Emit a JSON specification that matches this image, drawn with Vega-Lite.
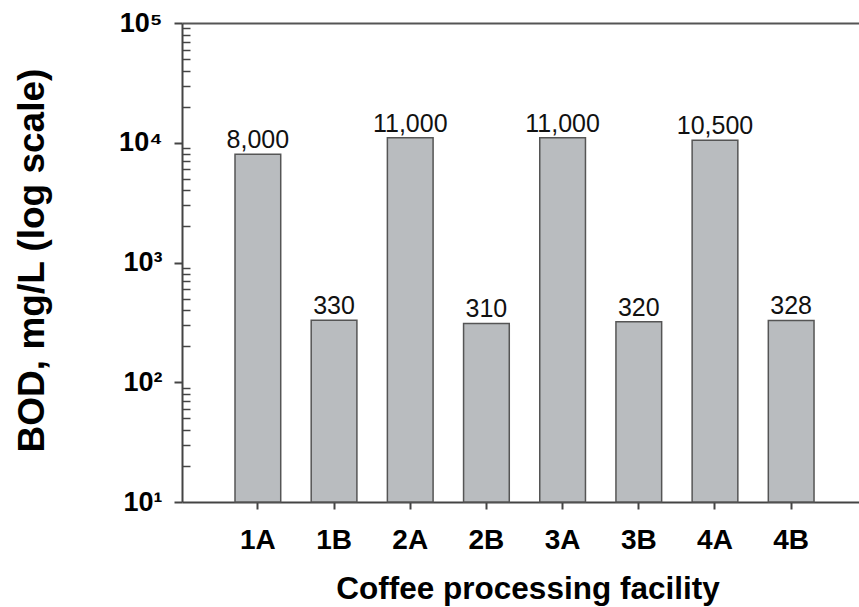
{
  "$schema": "https://vega.github.io/schema/vega-lite/v6.json",
  "width": 677,
  "height": 479,
  "autosize": {"type": "none"},
  "padding": {"left": 182, "top": 23, "right": 0, "bottom": 105},
  "background": "white",
  "config": {"font": "Liberation Sans", "view": {"stroke": null}},
  "data": {
    "values": [
      {"facility": "1A", "bod": 8000, "base": 10},
      {"facility": "1B", "bod": 330, "base": 10},
      {"facility": "2A", "bod": 11000, "base": 10},
      {"facility": "2B", "bod": 310, "base": 10},
      {"facility": "3A", "bod": 11000, "base": 10},
      {"facility": "3B", "bod": 320, "base": 10},
      {"facility": "4A", "bod": 10500, "base": 10},
      {"facility": "4B", "bod": 328, "base": 10}
    ]
  },
  "layer": [
    {
      "mark": {"type": "bar", "fill": "#b9bcbf", "stroke": "#555555", "strokeWidth": 1.5},
      "encoding": {
        "x": {
          "field": "facility", "type": "nominal", "sort": null,
          "scale": {"paddingInner": 0.4, "paddingOuter": 0.643, "align": 0.541},
          "axis": {
            "orient": "bottom",
            "title": "Coffee processing facility",
            "titleFontSize": 31.5, "titleFontWeight": "bold", "titleColor": "#000000",
            "titleBaseline": "alphabetic", "titleX": 345.5, "titleY": 96,
            "labelFontSize": 28, "labelFontWeight": "bold", "labelColor": "#000000",
            "labelAngle": 0, "labelPadding": 17,
            "tickSize": 7, "tickColor": "#444444", "tickWidth": 2,
            "domainColor": "#444444", "domainWidth": 2, "grid": false
          }
        },
        "y": {
          "field": "bod", "type": "quantitative",
          "scale": {"type": "log", "domain": [10, 100000], "nice": false},
          "axis": {
            "orient": "left",
            "values": [10, 100, 1000, 10000, 100000],
            "labelExpr": "'10' + (datum.value == 10 ? '¹' : datum.value == 100 ? '²' : datum.value == 1000 ? '³' : datum.value == 10000 ? '⁴' : '⁵')",
            "title": "BOD, mg/L (log scale)",
            "titleFontSize": 37, "titleFontWeight": "bold", "titleColor": "#000000",
            "titleBaseline": "alphabetic", "titleAngle": 270, "titleX": -139, "titleY": 237, "titleAlign": "center",
            "labelFontSize": 27, "labelFontWeight": "bold", "labelColor": "#000000",
            "labelPadding": 12,
            "tickSize": 8, "tickColor": "#444444", "tickWidth": 2,
            "domainColor": "#444444", "domainWidth": 2, "grid": false
          }
        },
        "y2": {"field": "base"}
      }
    },
    {
      "mark": {"type": "text", "fontSize": 25, "color": "#111111", "baseline": "alphabetic", "dy": -6},
      "encoding": {
        "x": {
          "field": "facility", "type": "nominal", "sort": null,
          "axis": {"orient": "top", "labels": false, "ticks": false, "title": null, "domain": true, "domainColor": "#555555", "domainWidth": 2, "grid": false}
        },
        "y": {
          "field": "bod", "type": "quantitative",
          "axis": {
            "orient": "left", "labels": false, "domain": false, "title": null, "grid": false,
            "values": [20, 30, 40, 50, 60, 70, 80, 90, 200, 300, 400, 500, 600, 700, 800, 900, 2000, 3000, 4000, 5000, 6000, 7000, 8000, 9000, 20000, 30000, 40000, 50000, 60000, 70000, 80000, 90000],
            "tickSize": -8, "tickColor": "#444444", "tickWidth": 1.5
          }
        },
        "text": {"field": "bod", "type": "quantitative", "format": ","}
      }
    }
  ],
  "resolve": {"axis": {"x": "independent", "y": "independent"}}
}
